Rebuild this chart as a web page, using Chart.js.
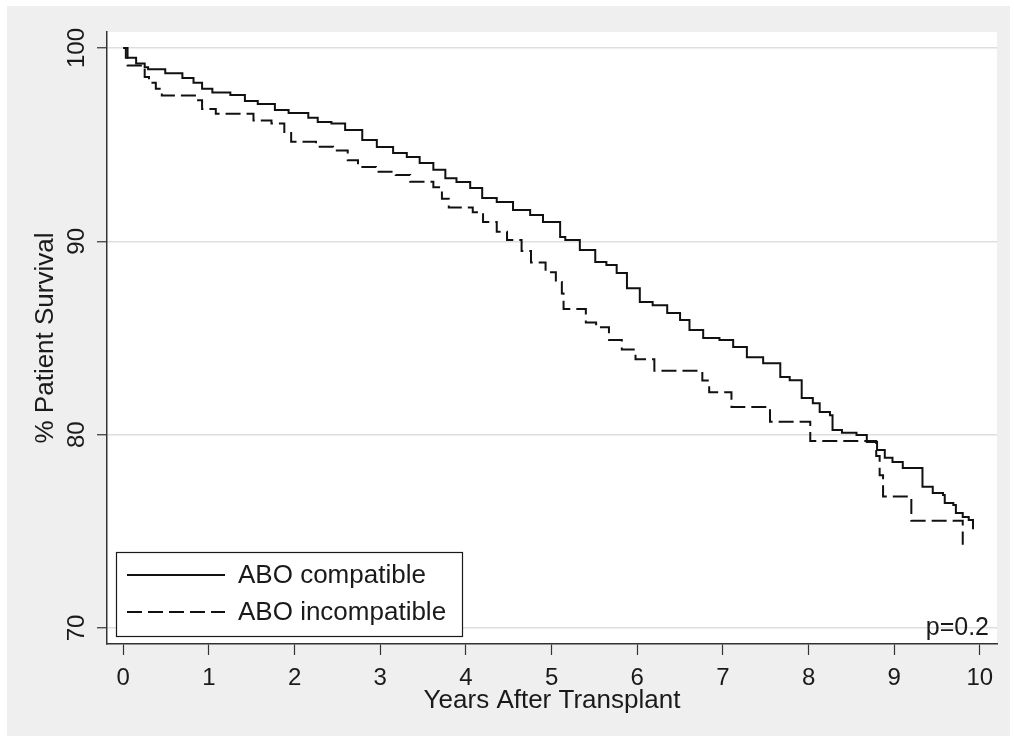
<!DOCTYPE html>
<html>
<head>
<meta charset="utf-8">
<title>Patient survival by ABO compatibility</title>
<script src="https://cdn.jsdelivr.net/npm/chart.js@4/dist/chart.umd.min.js"></script>
<style>
  html, body { margin: 0; padding: 0; background: #fff; }
  canvas { display: block; }
</style>
</head>
<body>
<canvas id="kmchart" width="1014" height="741"></canvas>
<script>
// Kaplan-Meier steps (years, % surviving)
var compatibleYears = [0, 0.03, 0.15, 0.25, 0.29, 0.49, 0.69, 0.82, 0.92, 1.04, 1.25, 1.42, 1.57, 1.77, 1.93,
  2.16, 2.27, 2.43, 2.59, 2.79, 2.96, 3.15, 3.31, 3.46, 3.62, 3.76, 3.89, 4.05, 4.19, 4.36, 4.55, 4.75, 4.9,
  5.1, 5.16, 5.33, 5.51, 5.64, 5.76, 5.88, 6.03, 6.18, 6.35, 6.5, 6.61, 6.77, 6.96, 7.12, 7.28, 7.47, 7.67,
  7.78, 7.92, 8.05, 8.13, 8.25, 8.28, 8.39, 8.56, 8.68, 8.8, 8.89, 8.98, 9.1, 9.33, 9.45, 9.57, 9.59, 9.69,
  9.72, 9.8, 9.87, 9.92];
var compatibleSurvival = [100, 99.5, 99.2, 99.0, 98.9, 98.7, 98.45, 98.2, 97.9, 97.7, 97.57, 97.26, 97.1, 96.8, 96.64,
  96.4, 96.17, 96.1, 95.76, 95.24, 94.88, 94.57, 94.36, 94.05, 93.7, 93.27, 93.07, 92.76, 92.24, 92.03, 91.62, 91.36, 91.0,
  90.22, 90.07, 89.55, 88.93, 88.77, 88.36, 87.58, 86.86, 86.7, 86.29, 85.93, 85.41, 85.0, 84.9, 84.53, 84.0, 83.7, 82.98,
  82.82, 81.9, 81.63, 81.17, 81.0, 80.24, 80.1, 79.98, 79.62, 79.2, 78.8, 78.58, 78.27, 77.3, 76.98, 76.88, 76.46, 76.36,
  75.95, 75.74, 75.58, 75.1];

var incompatibleYears = [0, 0.05, 0.25, 0.3, 0.38, 0.45, 0.85, 0.92, 1.08, 1.52, 1.73, 1.88, 1.96, 2.25, 2.45,
  2.62, 2.74, 2.95, 3.18, 3.35, 3.62, 3.72, 3.8, 4.08, 4.2, 4.36, 4.48, 4.65, 4.76, 4.93, 5.05, 5.12, 5.14,
  5.4, 5.52, 5.67, 5.82, 5.98, 6.2, 6.76, 6.84, 7.1, 7.55, 8.02, 8.79, 8.83, 8.87, 9.2, 9.8];
var incompatibleSurvival = [100, 99.1, 98.5, 98.2, 97.9, 97.55, 97.3, 96.85, 96.6, 96.25, 96.1, 95.6, 95.15, 94.9, 94.7,
  94.2, 93.85, 93.6, 93.43, 93.08, 92.8, 92.2, 91.75, 91.5, 91.0, 90.5, 90.07, 89.5, 88.9, 88.4, 87.9, 87.3, 86.5,
  85.8, 85.55, 84.9, 84.4, 83.9, 83.3, 82.8, 82.2, 81.43, 80.67, 79.67, 78.9, 77.9, 76.8, 75.55, 74.3];

var seriesNames = ["ABO compatible", "ABO incompatible"];
var xTicks = [0, 1, 2, 3, 4, 5, 6, 7, 8, 9, 10];
var yTicks = [70, 80, 90, 100];
var pValueText = "p=0.2";

function pairs(xs, ys) {
  return xs.map(function (x, i) { return { x: x, y: ys[i] }; });
}

var FONT = "'Liberation Sans', Arial, sans-serif";
var INK = "#1a1a1a";

var backdrop = {
  id: "backdrop",
  beforeDraw: function (chart) {
    var ctx = chart.ctx, a = chart.chartArea;
    ctx.save();
    ctx.fillStyle = "#ffffff";
    ctx.fillRect(0, 0, chart.width, chart.height);
    ctx.fillStyle = "#efefef";
    ctx.fillRect(7, 6, 1003, 730);
    ctx.fillStyle = "#ffffff";
    ctx.fillRect(a.left, a.top, a.right - a.left, a.bottom - a.top);
    ctx.restore();
  }
};

var keyAndNote = {
  id: "keyAndNote",
  afterDraw: function (chart) {
    var ctx = chart.ctx, a = chart.chartArea;
    ctx.save();
    // legend box
    ctx.fillStyle = "#ffffff";
    ctx.fillRect(116, 552, 346, 84);
    ctx.strokeStyle = INK;
    ctx.lineWidth = 1.2;
    ctx.strokeRect(116.5, 552.5, 346, 84);
    var rows = [575, 612];
    chart.data.datasets.forEach(function (ds, i) {
      ctx.strokeStyle = ds.borderColor;
      ctx.lineWidth = 2;
      ctx.setLineDash(ds.borderDash || []);
      ctx.beginPath();
      ctx.moveTo(127, rows[i]);
      ctx.lineTo(225, rows[i]);
      ctx.stroke();
      ctx.setLineDash([]);
      ctx.fillStyle = INK;
      ctx.font = "26px " + FONT;
      ctx.textBaseline = "middle";
      ctx.textAlign = "left";
      ctx.fillText(ds.label, 238, rows[i] + 1);
    });
    // p value
    ctx.fillStyle = INK;
    ctx.font = "25px " + FONT;
    ctx.textAlign = "right";
    ctx.textBaseline = "alphabetic";
    ctx.fillText(pValueText, a.right - 8, 635);
    ctx.restore();
  }
};

new Chart("kmchart", {
  type: "line",
  data: {
    datasets: [{
      label: seriesNames[0],
      data: pairs(compatibleYears, compatibleSurvival),
      borderColor: "#111111",
      borderWidth: 2,
      stepped: true,
      pointRadius: 0,
      fill: false
    }, {
      label: seriesNames[1],
      data: pairs(incompatibleYears, incompatibleSurvival),
      borderColor: "#111111",
      borderWidth: 2,
      borderDash: [15, 6],
      stepped: true,
      pointRadius: 0,
      fill: false
    }]
  },
  options: {
    responsive: false,
    animation: false,
    layout: { padding: { left: 0, top: 32, right: 17, bottom: 0 } },
    plugins: {
      legend: { display: false },
      tooltip: { enabled: false }
    },
    scales: {
      x: {
        type: "linear",
        min: -0.19,
        max: 10.2,
        afterBuildTicks: function (s) { s.ticks = xTicks.map(function (v) { return { value: v }; }); },
        afterFit: function (s) { s.height = 97; },
        grid: { drawOnChartArea: false, drawTicks: true, tickLength: 11, tickColor: "#333333", tickWidth: 1.2 },
        border: { display: true, color: "#333333", width: 1.5 },
        ticks: { color: INK, font: { family: FONT, size: 24 }, padding: 9, maxRotation: 0, autoSkip: false },
        title: { display: true, text: "Years After Transplant", color: INK,
                 font: { family: FONT, size: 26 }, padding: { top: 0, bottom: 25 } }
      },
      y: {
        type: "linear",
        min: 69.17,
        max: 100.83,
        afterBuildTicks: function (s) { s.ticks = yTicks.map(function (v) { return { value: v }; }); },
        afterFit: function (s) { s.width = 107; },
        grid: { color: "#dedede", lineWidth: 1.5, drawTicks: true, tickLength: 10, tickColor: "#333333", tickWidth: 1.2 },
        border: { display: true, color: "#333333", width: 1.5 },
        ticks: { color: INK, font: { family: FONT, size: 24 }, padding: 0, minRotation: 90, maxRotation: 90,
                 crossAlign: "center", autoSkip: false },
        title: { display: true, text: "% Patient Survival", color: INK,
                 font: { family: FONT, size: 26 }, padding: { top: 30, bottom: 0 } }
      }
    }
  },
  plugins: [backdrop, keyAndNote]
});
</script>
</body>
</html>
